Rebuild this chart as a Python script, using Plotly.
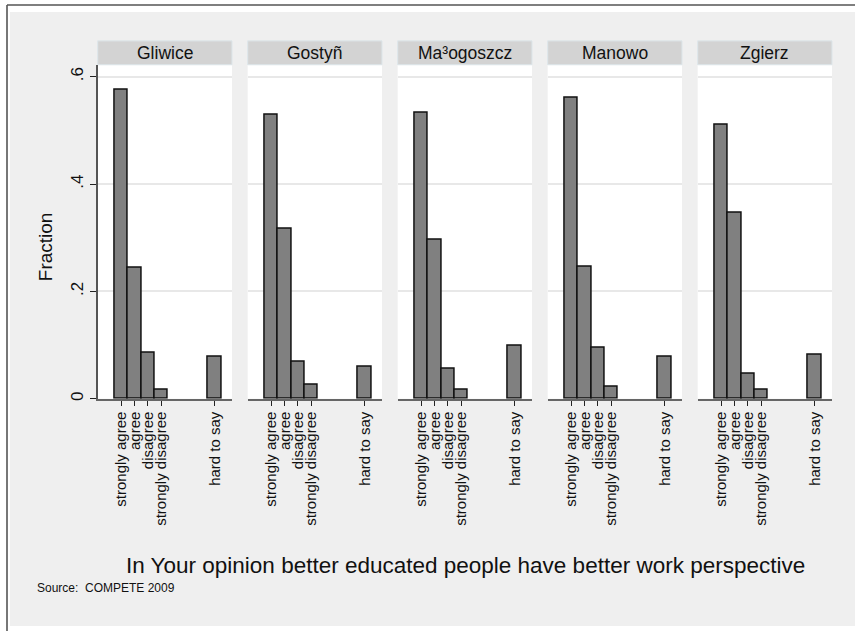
import plotly.graph_objects as go

# Survey answers, share of respondents per town
towns = ["Gliwice", "Gostyñ", "Ma³ogoszcz", "Manowo", "Zgierz"]
answer_codes = [1, 2, 3, 4, 8]
answer_labels = ["strongly agree", "agree", "disagree", "strongly disagree", "hard to say"]
fractions = {
    "Gliwice":    [0.576, 0.244, 0.086, 0.016, 0.078],
    "Gostyñ":     [0.530, 0.317, 0.068, 0.026, 0.060],
    "Ma³ogoszcz": [0.532, 0.296, 0.056, 0.016, 0.099],
    "Manowo":     [0.560, 0.245, 0.095, 0.022, 0.078],
    "Zgierz":     [0.511, 0.347, 0.046, 0.016, 0.081],
}
y_ticks = [0, 0.2, 0.4, 0.6]
y_tick_text = ["0", ".2", ".4", ".6"]
x_title = "In Your opinion better educated people have better work perspective"
note = "Source:  COMPETE 2009"

W, H = 855, 631
FONT = "Liberation Sans, Arial, sans-serif"


def px(x):
    return x / W


def py(y):
    return 1 - y / H


panel_left, panel_w, panel_step = 97.7, 134.3, 150
plot_top, plot_bottom = 65, 400
strip_top = 41

fig = go.Figure()
shapes = []
annotations = []

# outer frame and grey graph region
shapes.append(dict(type="rect", xref="paper", yref="paper", x0=px(10), x1=px(W + 5),
                   y0=py(628), y1=py(12), fillcolor="#efefef", line=dict(width=0), layer="below"))
shapes.append(dict(type="line", xref="paper", yref="paper", x0=px(7), x1=px(7),
                   y0=py(H + 5), y1=py(5), line=dict(color="#555555", width=1.6), layer="below"))
shapes.append(dict(type="line", xref="paper", yref="paper", x0=px(7), x1=px(W + 5),
                   y0=py(5), y1=py(5), line=dict(color="#555555", width=1.6), layer="below"))

layout_axes = {}
for i, town in enumerate(towns):
    n = i + 1
    xa = "xaxis" if n == 1 else f"xaxis{n}"
    ya = "yaxis" if n == 1 else f"yaxis{n}"
    xr = "x" if n == 1 else f"x{n}"
    yr = "y" if n == 1 else f"y{n}"
    x0 = panel_left + panel_step * i
    x1 = x0 + panel_w

    fig.add_trace(go.Bar(
        x=answer_codes, y=fractions[town], width=1,
        marker=dict(color="#808080", line=dict(color="#111111", width=1.5)),
        xaxis=xr, yaxis=yr, showlegend=False, hoverinfo="x+y",
    ))

    # white plot region
    shapes.append(dict(type="rect", xref="paper", yref="paper", x0=px(x0), x1=px(x1),
                       y0=py(plot_bottom), y1=py(plot_top), fillcolor="white",
                       line=dict(width=0), layer="below"))
    # panel header strip
    shapes.append(dict(type="rect", xref="paper", yref="paper", x0=px(x0), x1=px(x1),
                       y0=py(plot_top), y1=py(strip_top), fillcolor="#d3d3d3",
                       line=dict(color="#dde6ea", width=1), layer="below"))
    annotations.append(dict(text=town, xref="paper", yref="paper", x=px((x0 + x1) / 2),
                            y=py((plot_top + strip_top) / 2), showarrow=False,
                            xanchor="center", yanchor="middle",
                            font=dict(family=FONT, size=17.5, color="#111111")))

    layout_axes[xa] = dict(
        domain=[px(x0), px(x1)], anchor=yr, range=[-0.77, 9.3],
        tickmode="array", tickvals=answer_codes, ticktext=answer_labels,
        tickangle=-90, ticks="outside", ticklen=5, tickwidth=1.2, tickcolor="#222222",
        showline=True, linecolor="#666666", linewidth=1.8, showgrid=False, zeroline=False,
        tickfont=dict(family=FONT, size=15, color="#111111"), fixedrange=True,
    )
    layout_axes[ya] = dict(
        domain=[py(plot_bottom), py(plot_top)], anchor=xr, range=[0, (plot_bottom - plot_top) / 538.3],
        tickmode="array", tickvals=y_ticks, ticktext=y_tick_text,
        showgrid=True, gridcolor="#e8e8e8", gridwidth=1.5, zeroline=False,
        showticklabels=(n == 1), ticks="outside" if n == 1 else "", ticklen=6,
        tickwidth=1.2, tickcolor="#222222", tickangle=-90,
        showline=(n == 1), linecolor="#555555", linewidth=1.5,
        tickfont=dict(family=FONT, size=17, color="#111111"), fixedrange=True,
    )

annotations.append(dict(text="Fraction", xref="paper", yref="paper", x=px(45), y=py(248),
                        textangle=-90, showarrow=False, xanchor="center", yanchor="middle",
                        font=dict(family=FONT, size=19, color="#111111")))
annotations.append(dict(text=x_title, xref="paper", yref="paper", x=px(465), y=py(567),
                        showarrow=False, xanchor="center", yanchor="middle",
                        font=dict(family=FONT, size=22.5, color="#111111")))
annotations.append(dict(text=note, xref="paper", yref="paper", x=px(35), y=py(590),
                        showarrow=False, xanchor="left", yanchor="middle",
                        font=dict(family=FONT, size=12, color="#111111")))

fig.update_layout(
    width=W, height=H, margin=dict(l=0, r=0, t=0, b=0),
    paper_bgcolor="white", plot_bgcolor="white",
    shapes=shapes, annotations=annotations, bargap=0,
    **layout_axes,
)

fig.write_html("out.html")
